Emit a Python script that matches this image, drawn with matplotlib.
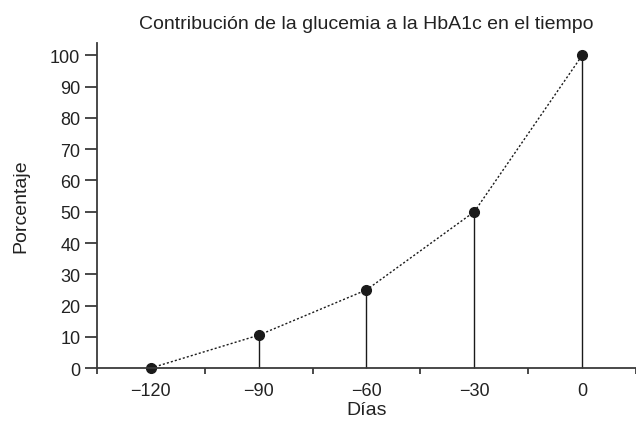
import matplotlib
matplotlib.use("Agg")
import matplotlib.pyplot as plt

dias = [-120, -90, -60, -30, 0]
porcentaje = [0, 10.5, 25, 50, 100]
x_labels = ["\u2212120", "\u221290", "\u221260", "\u221230", "0"]
y_ticks = [0, 10, 20, 30, 40, 50, 60, 70, 80, 90, 100]

plt.rcParams['font.family'] = ['Liberation Sans', 'DejaVu Sans']
fig = plt.figure(figsize=(6.36, 4.27), dpi=100)
ax = fig.add_axes([0.1525, 0.1358, 0.8475, 0.7612])

spine_c = '#3a3a3a'
ax.vlines(dias, 0, porcentaje, colors='#1a1a1a', linewidth=1.0)
ax.plot(dias, porcentaje, linestyle=(0, (1.5, 1.5)), color='#1a1a1a', linewidth=1.0,
        marker='o', markersize=7, markerfacecolor='#1a1a1a', markeredgecolor='#1a1a1a')

ax.set_xlim(-135, 15)
ax.set_ylim(0, 104)
for s in ['top', 'right']:
    ax.spines[s].set_visible(False)
for s in ['left', 'bottom']:
    ax.spines[s].set_color(spine_c)
    ax.spines[s].set_linewidth(1.3)

ax.set_xticks(dias)
ax.set_xticklabels(x_labels, fontsize=13, color='#222222')
ax.set_xticks([-135, -105, -75, -45, -15, 15], minor=True)
ax.tick_params(axis='x', which='major', length=0, pad=10)
ax.tick_params(axis='x', which='minor', length=4, width=1.3, color=spine_c, direction='out')
ax.set_yticks(y_ticks)
ax.set_yticklabels([str(v) for v in y_ticks], fontsize=13, color='#222222')
ax.tick_params(axis='y', length=9, width=1.3, color=spine_c, direction='out', pad=3)

ax.set_xlabel("D\u00edas", fontsize=14, color='#222222')
ax.xaxis.set_label_coords(0.5, -0.1)
ax.set_ylabel("Porcentaje", fontsize=14, color='#222222')
ax.yaxis.set_label_coords(-0.125, 0.5)
ax.set_title("Contribuci\u00f3n de la glucemia a la HbA1c en el tiempo", fontsize=14,
             color='#222222', pad=11)
ax.patch.set_visible(False)
for a in ax.collections + ax.lines:
    a.set_clip_on(False)

fig.savefig("out.png", dpi=100)
